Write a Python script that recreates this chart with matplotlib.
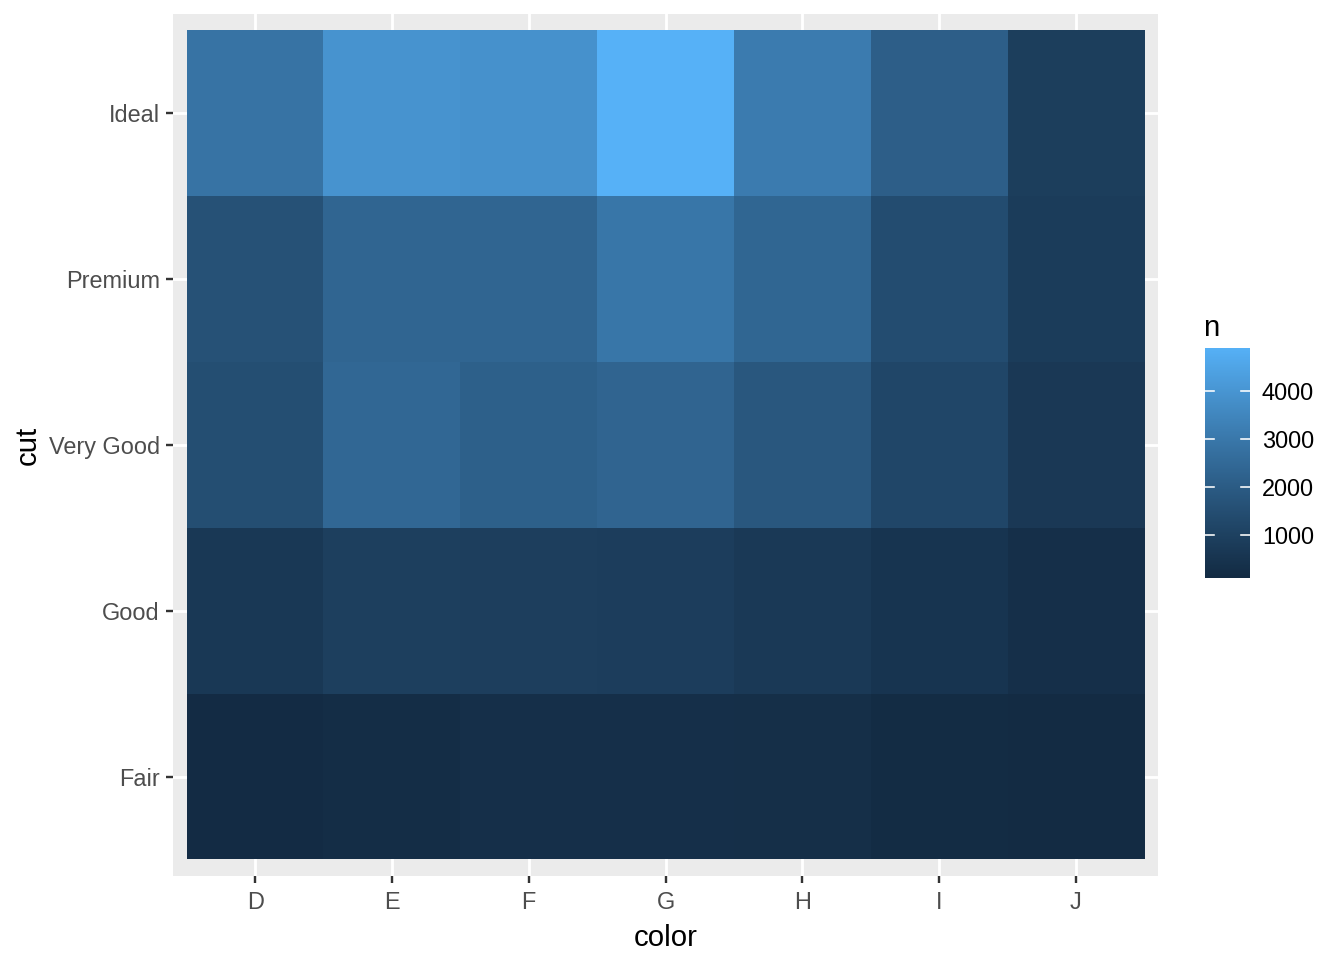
import numpy as np
import matplotlib
matplotlib.use("Agg")
import matplotlib.pyplot as plt
from matplotlib.colors import ListedColormap, Normalize

plt.rcParams['font.family'] = ['Liberation Sans', 'DejaVu Sans']

# counts of diamonds by cut and colour
colors = ['D', 'E', 'F', 'G', 'H', 'I', 'J']
cuts = ['Fair', 'Good', 'Very Good', 'Premium', 'Ideal']
fair = [163, 224, 312, 314, 303, 175, 119]
good = [662, 933, 909, 871, 702, 522, 307]
very_good = [1513, 2400, 2164, 2299, 1824, 1204, 678]
premium = [1603, 2337, 2331, 2924, 2360, 1428, 808]
ideal = [2834, 3903, 3826, 4884, 3115, 2093, 896]
counts = np.array([fair, good, very_good, premium, ideal])
cbar_ticks = [1000, 2000, 3000, 4000]


# ggplot default gradient #132B43 -> #56B1F7, blended in Lab space
def srgb_to_lab(rgb):
    rgb = np.asarray(rgb, float)
    lin = np.where(rgb <= 0.04045, rgb / 12.92, ((rgb + 0.055) / 1.055) ** 2.4)
    m = np.array([[0.4124, 0.3576, 0.1805],
                  [0.2126, 0.7152, 0.0722],
                  [0.0193, 0.1192, 0.9505]])
    xyz = m @ lin / np.array([0.95047, 1.0, 1.08883])
    f = np.where(xyz > 0.008856, np.cbrt(xyz), 7.787 * xyz + 16 / 116)
    return np.array([116 * f[1] - 16, 500 * (f[0] - f[1]), 200 * (f[1] - f[2])])


def lab_to_srgb(lab):
    L, a, b = lab
    fy = (L + 16) / 116
    f = np.array([fy + a / 500, fy, fy - b / 200])
    xyz = np.where(f ** 3 > 0.008856, f ** 3, (f - 16 / 116) / 7.787)
    xyz = xyz * np.array([0.95047, 1.0, 1.08883])
    minv = np.array([[3.2406, -1.5372, -0.4986],
                     [-0.9689, 1.8758, 0.0415],
                     [0.0557, -0.2040, 1.0570]])
    lin = minv @ xyz
    rgb = np.where(lin <= 0.0031308, 12.92 * lin, 1.055 * np.clip(lin, 0, None) ** (1 / 2.4) - 0.055)
    return np.clip(rgb, 0, 1)


low = srgb_to_lab(np.array([0x13, 0x2B, 0x43]) / 255)
high = srgb_to_lab(np.array([0x56, 0xB1, 0xF7]) / 255)
cmap = ListedColormap([lab_to_srgb(low + (high - low) * t) for t in np.linspace(0, 1, 256)])
norm = Normalize(vmin=counts.min(), vmax=counts.max())

# 7x5 inches at 192 dpi -> 1344x960
fig = plt.figure(figsize=(7, 5), dpi=192)
ax = fig.add_axes([173 / 1344, 1 - 876 / 960, 985 / 1344, 862 / 960])
ax.set_facecolor('#EBEBEB')

ax.imshow(counts, cmap=cmap, norm=norm, origin='lower', aspect='auto',
          extent=(-0.5, len(colors) - 0.5, -0.5, len(cuts) - 0.5), zorder=2)

ax.set_xlim(-0.6, len(colors) - 0.4)
ax.set_ylim(-0.6, len(cuts) - 0.4)
ax.set_xticks(range(len(colors)))
ax.set_xticklabels(colors)
ax.set_yticks(range(len(cuts)))
ax.set_yticklabels(cuts)
ax.grid(True, color='white', linewidth=1.07, zorder=1)
ax.set_axisbelow(True)
for s in ax.spines.values():
    s.set_visible(False)
ax.tick_params(length=2.75, width=0.9, color='#333333', labelcolor='#4D4D4D',
               labelsize=8.8, pad=2.2)
ax.tick_params(axis='x', pad=2.8)
ax.set_xlabel('color', fontsize=11, color='black', labelpad=3.8)
ax.set_ylabel('cut', fontsize=11, color='black', labelpad=2.75)

# colourbar legend
cax = fig.add_axes([1205 / 1344, 1 - 578 / 960, 45 / 1344, 230 / 960])
grad = np.linspace(counts.min(), counts.max(), 300).reshape(-1, 1)
cax.imshow(grad, cmap=cmap, norm=norm, origin='lower', aspect='auto',
           extent=(0, 1, counts.min(), counts.max()))
cax.set_xlim(0, 1)
cax.set_ylim(counts.min(), counts.max())
for t in cbar_ticks:
    cax.plot([0, 0.2], [t, t], color='white', linewidth=0.6)
    cax.plot([0.8, 1], [t, t], color='white', linewidth=0.6)
cax.set_xticks([])
cax.yaxis.tick_right()
cax.set_yticks(cbar_ticks)
cax.tick_params(axis='y', length=0, labelsize=8.8, labelcolor='black', pad=4.5)
for s in cax.spines.values():
    s.set_visible(False)
fig.text(1203 / 1344, 1 - 328 / 960, 'n', fontsize=11, ha='left', va='center')

fig.savefig('out.png', dpi=192)
